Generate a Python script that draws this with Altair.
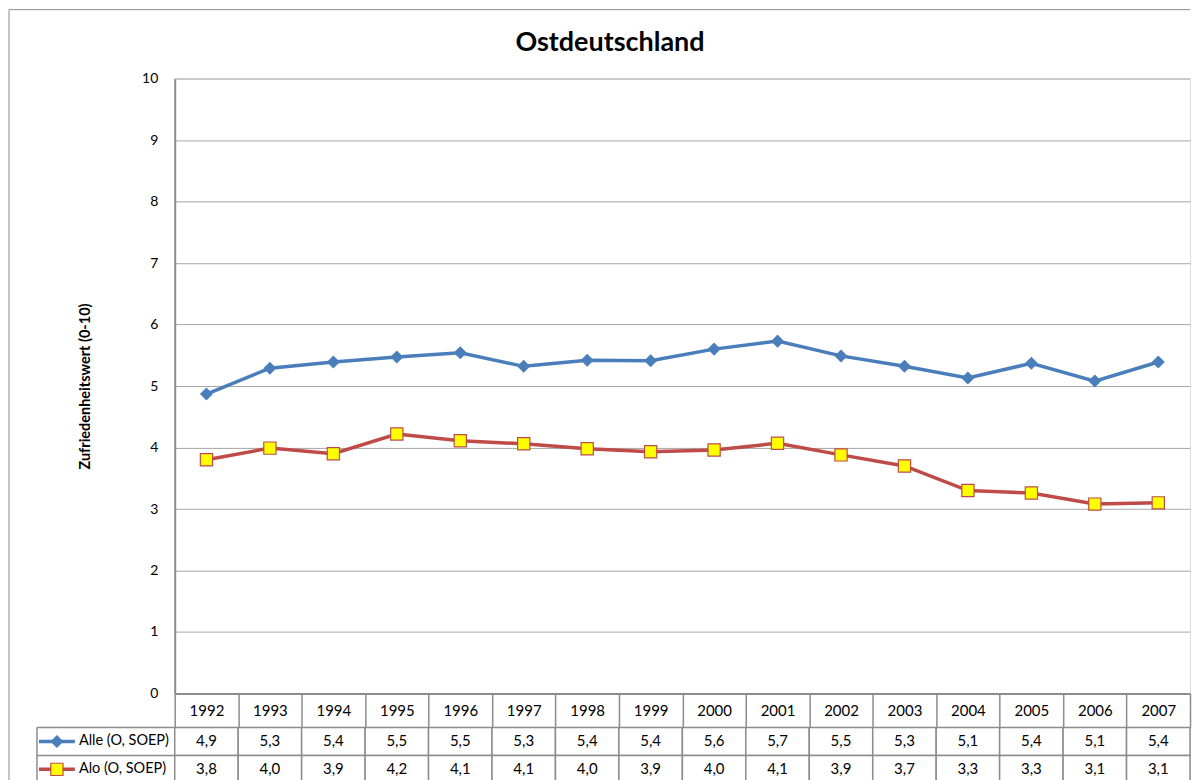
import altair as alt
import pandas as pd

# ---------------- data ----------------
years = [1992, 1993, 1994, 1995, 1996, 1997, 1998, 1999,
         2000, 2001, 2002, 2003, 2004, 2005, 2006, 2007]
alle = [4.87, 5.29, 5.39, 5.47, 5.54, 5.32, 5.42, 5.41,
        5.60, 5.73, 5.49, 5.32, 5.13, 5.37, 5.08, 5.39]
alo = [3.80, 3.99, 3.90, 4.22, 4.11, 4.06, 3.98, 3.93,
       3.96, 4.07, 3.88, 3.70, 3.30, 3.26, 3.08, 3.10]
series_names = ["Alle (O, SOEP)", "Alo (O, SOEP)"]
series_colors = ["#4a7ebb", "#be4b48"]
y_ticks = [0, 1, 2, 3, 4, 5, 6, 7, 8, 9, 10]
chart_title = "Ostdeutschland"
y_title = "Zufriedenheitswert (0-10)"

FONT = "Lato"
GRID = "#a6a6a6"
BORDER = "#8c8c8c"


def fmt(v):
    return f"{v:.1f}".replace(".", ",")


long_rows = []
for i, yr in enumerate(years):
    long_rows.append({"Jahr": str(yr), "Serie": series_names[0], "Wert": alle[i]})
    long_rows.append({"Jahr": str(yr), "Serie": series_names[1], "Wert": alo[i]})
long = pd.DataFrame(long_rows)

cells = []
for i, yr in enumerate(years):
    cells.append({"col": str(yr), "row": series_names[0], "txt": fmt(alle[i])})
    cells.append({"col": str(yr), "row": series_names[1], "txt": fmt(alo[i])})
cells = pd.DataFrame(cells)
legend_df = pd.DataFrame({"row": series_names})
one = pd.DataFrame({"t": [chart_title]})

W, H = 1017, 616
HEADER = 34      # height of the year row (x-axis labels)
ROW = 28
TABLE_H = 2 * ROW
DIA = 170
SQ = 150

# ---------------- top: line chart ----------------
band = alt.Scale(type="band", paddingInner=0, paddingOuter=0)
x_axis = alt.Axis(title=None, grid=False, labelAngle=0, labelFont=FONT, labelFontSize=15,
                  labelColor="black", labelBaseline="middle", labelPadding=-17,
                  ticks=True, tickBand="extent", tickSize=HEADER, tickColor=BORDER,
                  tickWidth=1.5, domainColor=BORDER, domainWidth=2)
x_top = alt.X("Jahr:O", scale=band, axis=x_axis, bandPosition=0.5)
y_top = alt.Y("Wert:Q", scale=alt.Scale(domain=[0, 10], nice=False),
              axis=alt.Axis(values=y_ticks, title=y_title, titleFont=FONT,
                            titleFontSize=14.5, titleFontWeight="bold", titleColor="black",
                            titlePadding=49, labelFont=FONT, labelFontSize=14,
                            labelColor="black", labelPadding=17, ticks=False,
                            domainColor=BORDER, domainWidth=2,
                            gridColor=GRID, gridWidth=1))
color_enc = alt.Color("Serie:N", scale=alt.Scale(domain=series_names, range=series_colors),
                      legend=None)

lines = alt.Chart(long).mark_line(strokeWidth=3.5).encode(x=x_top, y=y_top, color=color_enc)
pts_alle = alt.Chart(long).transform_filter(
    alt.datum.Serie == series_names[0]
).mark_point(shape="diamond", filled=True, size=DIA, color=series_colors[0], opacity=1).encode(
    x=x_top, y=y_top)
pts_alo = alt.Chart(long).transform_filter(
    alt.datum.Serie == series_names[1]
).mark_square(size=SQ, fill="#ffff00", stroke=series_colors[1], strokeWidth=1.2,
              opacity=1).encode(x=x_top, y=y_top)

title_mark = alt.Chart(one).mark_text(font=FONT, fontSize=27, fontWeight="bold",
                                      color="black", baseline="middle").encode(
    text="t:N", x=alt.value(436), y=alt.value(-36))
border_top = alt.Chart(one).mark_rule(color=BORDER, strokeWidth=1).encode(
    x=alt.value(-166), x2=alt.value(W), y=alt.value(-69))
border_left = alt.Chart(one).mark_rule(color=BORDER, strokeWidth=1).encode(
    x=alt.value(-166), y=alt.value(-69), y2=alt.value(H + HEADER + TABLE_H))

top = alt.layer(border_top, border_left, title_mark, lines, pts_alle, pts_alo).properties(
    width=W, height=H)

# ---------------- bottom: data table ----------------
xt = alt.X("col:O", scale=band, axis=None)
xt_c = alt.X("col:O", scale=band, axis=None, bandPosition=0.5)
row_scale = alt.Scale(domain=series_names, type="band", paddingInner=0, paddingOuter=0)
yt = alt.Y("row:O", scale=row_scale, axis=None)
yt_top = alt.Y("row:O", scale=row_scale, axis=None, bandPosition=0)
yt_c = alt.Y("row:O", scale=row_scale, axis=None, bandPosition=0.5)

cell_rects = alt.Chart(cells).mark_rect(fill="white", stroke=BORDER, strokeWidth=1.5).encode(
    x=xt, y=yt)
cell_text = alt.Chart(cells).mark_text(font=FONT, fontSize=15, color="black",
                                       baseline="middle").encode(
    x=xt_c, y=yt_c, text="txt:N")
leg_hlines = alt.Chart(legend_df).mark_rule(color=BORDER, strokeWidth=1.5).encode(
    x=alt.value(-138), x2=alt.value(0), y=yt_top)
leg_vline = alt.Chart(one).mark_rule(color=BORDER, strokeWidth=1.5).encode(
    x=alt.value(-138), y=alt.value(0), y2=alt.value(TABLE_H))
leg_text = alt.Chart(legend_df).mark_text(font=FONT, fontSize=14.5, color="black", align="left",
                                          baseline="middle").encode(
    x=alt.value(-96), y=yt_c, text="row:N")
leg_color = alt.Color("row:N", scale=alt.Scale(domain=series_names, range=series_colors),
                      legend=None)
leg_lines = alt.Chart(legend_df).mark_rule(strokeWidth=3.5).encode(
    x=alt.value(-136), x2=alt.value(-100), y=yt_c, color=leg_color)
leg_dia = alt.Chart(legend_df).transform_filter(
    alt.datum.row == series_names[0]
).mark_point(shape="diamond", filled=True, size=DIA, color=series_colors[0], opacity=1).encode(
    x=alt.value(-118), y=yt_c)
leg_sq = alt.Chart(legend_df).transform_filter(
    alt.datum.row == series_names[1]
).mark_square(size=SQ, fill="#ffff00", stroke=series_colors[1], strokeWidth=1.2,
              opacity=1).encode(x=alt.value(-118), y=yt_c)

table = alt.layer(cell_rects, cell_text, leg_hlines, leg_vline, leg_lines, leg_dia, leg_sq,
                  leg_text).properties(width=W, height=TABLE_H)

chart = alt.vconcat(top, table, spacing=HEADER, bounds="flush").properties(
    padding=0
).configure_view(stroke=None).configure(font=FONT, background="white")

chart.save("out.html", embed_options={"renderer": "svg", "actions": False})
